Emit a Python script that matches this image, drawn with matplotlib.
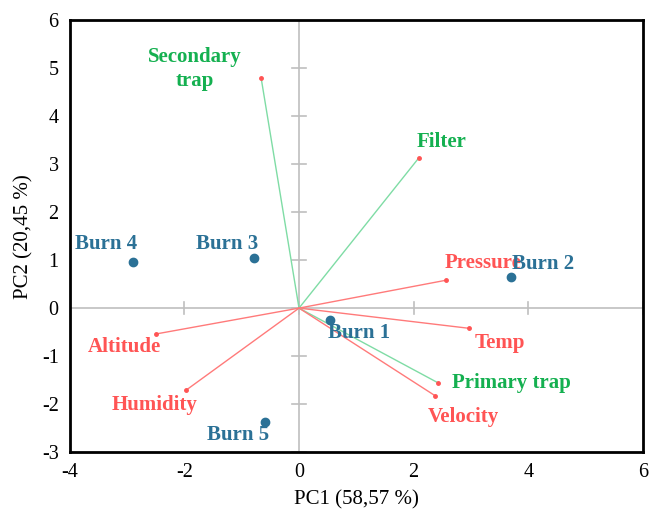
import matplotlib
matplotlib.use("Agg")
import matplotlib.pyplot as plt

plt.rcParams['font.family'] = ['Liberation Serif', 'DejaVu Serif']
plt.rcParams['axes.unicode_minus'] = False

# scores (burns)
burn_names = ['Burn 1', 'Burn 2', 'Burn 3', 'Burn 4', 'Burn 5']
burn_pc1 = [0.54, 3.70, -0.78, -2.89, -0.59]
burn_pc2 = [-0.25, 0.65, 1.04, 0.96, -2.38]

# loadings (variables)
var_names = ['Secondary\ntrap', 'Filter', 'Pressure', 'Temp', 'Primary trap',
             'Velocity', 'Altitude', 'Humidity']
var_pc1 = [-0.66, 2.09, 2.56, 2.96, 2.43, 2.38, -2.50, -1.97]
var_pc2 = [4.79, 3.13, 0.58, -0.42, -1.56, -1.83, -0.54, -1.71]
var_group = ['trap', 'trap', 'env', 'env', 'trap', 'env', 'env', 'env']

# label offsets in data units
var_off = [(-1.16, 0.2), (0.4, 0.33), (0.65, 0.35), (0.55, -0.31), (1.28, -0.01),
           (0.48, -0.44), (-0.55, -0.28), (-0.55, -0.3)]
burn_off = [(0.5, -0.26), (0.55, 0.27), (-0.48, 0.3), (-0.48, 0.38), (-0.47, -0.26)]

blue = '#2B7196'
red = '#FF5454'
green = '#14B050'
line_col = {'trap': '#7FDCA5', 'env': '#FF7A7A'}
lab_col = {'trap': green, 'env': red}

fig = plt.figure(figsize=(6.52, 5.19), dpi=100)
ax = fig.add_axes([0.107, 0.129, 0.879, 0.832])

ax.axhline(0, color='#BFBFBF', lw=1.2, zorder=1)
ax.axvline(0, color='#BFBFBF', lw=1.2, zorder=1)

xt = [-4, -2, 0, 2, 4, 6]
yt = [-3, -2, -1, 0, 1, 2, 3, 4, 5, 6]
# Excel-style tick marks on the zero axes
for t in yt:
    ax.plot([-0.12, 0.12], [t, t], color='#BFBFBF', lw=1.2, zorder=1)
for t in xt:
    ax.plot([t, t], [-0.12, 0.12], color='#BFBFBF', lw=1.2, zorder=1)

for x, y, g in zip(var_pc1, var_pc2, var_group):
    ax.plot([0, x], [0, y], color=line_col[g], lw=1.0, zorder=2)
    ax.plot(x, y, 'o', color=red, ms=2.5, zorder=3)

for name, x, y, g, (dx, dy) in zip(var_names, var_pc1, var_pc2, var_group, var_off):
    ax.text(x + dx, y + dy, name, color=lab_col[g], fontsize=15, fontweight='bold',
            ha='center', va='center', linespacing=1.25, zorder=4)

ax.plot(burn_pc1, burn_pc2, 'o', color=blue, ms=6, zorder=3)
for name, x, y, (dx, dy) in zip(burn_names, burn_pc1, burn_pc2, burn_off):
    ax.text(x + dx, y + dy, name, color=blue, fontsize=15, fontweight='bold',
            ha='center', va='center', zorder=4)

ax.set_xlim(-4, 6)
ax.set_ylim(-3, 6)
ax.set_xticks(xt)
ax.set_yticks(yt)
ax.tick_params(length=0, labelsize=14.5, pad=8)
for s in ax.spines.values():
    s.set_linewidth(2)
    s.set_color('black')

ax.set_xlabel('PC1 (58,57 %)', fontsize=15, labelpad=6)
ax.set_ylabel('PC2 (20,45 %)', fontsize=15, labelpad=6)

fig.savefig('out.png', dpi=100)
